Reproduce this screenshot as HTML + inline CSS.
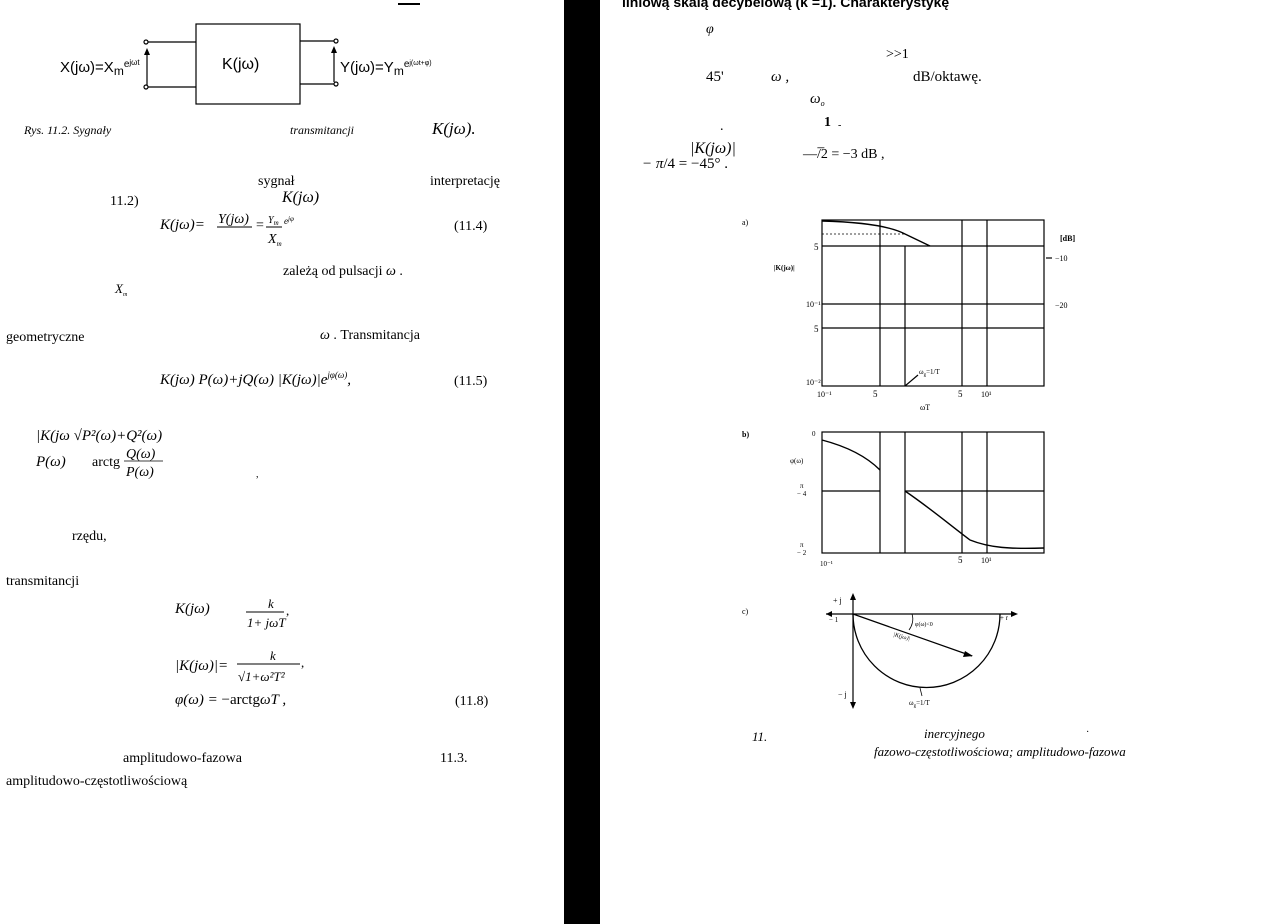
<!DOCTYPE html>
<html><head><meta charset="utf-8"><style>
html,body{margin:0;padding:0;background:#fff;}
svg{display:block}
text{font-family:"Liberation Serif",serif;fill:#000}
.s{font-family:"Liberation Sans",sans-serif}
.i{font-style:italic}
</style></head><body>
<svg width="1268" height="924" viewBox="0 0 1268 924" xmlns="http://www.w3.org/2000/svg">
<rect x="0" y="0" width="1268" height="924" fill="#fff"/>
<rect x="564" y="0" width="36" height="924" fill="#000"/>
<rect x="398" y="3" width="22" height="2" fill="#000"/>

<g stroke="#000" fill="none" stroke-width="1.2">
<rect x="196" y="24" width="104" height="80"/>
<line x1="148" y1="42" x2="196" y2="42"/>
<line x1="148" y1="87" x2="196" y2="87"/>
<line x1="300" y1="41" x2="334" y2="41"/>
<line x1="300" y1="84" x2="334" y2="84"/>
<circle cx="146" cy="42" r="2" fill="#fff"/>
<circle cx="146" cy="87" r="2" fill="#fff"/>
<circle cx="336" cy="41" r="2" fill="#fff"/>
<circle cx="336" cy="84" r="2" fill="#fff"/>
<line x1="147" y1="85" x2="147" y2="54"/>
<line x1="334" y1="82" x2="334" y2="52"/>
</g>
<polygon points="144,55 150,55 147,48" fill="#000"/>
<polygon points="331,53 337,53 334,46" fill="#000"/>
<text class="s" x="60" y="72" font-size="15">X(jω)=X<tspan font-size="12" dy="3">m</tspan><tspan dy="-8" font-size="10">e</tspan><tspan font-size="8" dy="-2">jωt</tspan></text>
<text class="s" x="222" y="69" font-size="16">K(jω)</text>
<text class="s" x="340" y="72" font-size="15">Y(jω)=Y<tspan font-size="12" dy="3">m</tspan><tspan dy="-8" font-size="10">e</tspan><tspan font-size="7" dy="-2">j(ωt+φ)</tspan></text>

<text class="i" x="24" y="134" font-size="12">Rys. 11.2. Sygnały</text>
<text class="i" x="290" y="134" font-size="12">transmitancji</text>
<text class="i" x="432" y="134" font-size="17">K(jω).</text>

<text x="258" y="185" font-size="14">sygnał</text>
<text x="430" y="185" font-size="14">interpretację</text>
<text x="110" y="205" font-size="14">11.2)</text>
<text class="i" x="282" y="202" font-size="16">K(jω)</text>
<text class="i" x="160" y="229" font-size="15">K(jω)=</text>
<text class="i" x="218" y="223" font-size="14">Y(jω)</text>
<line x1="217" y1="227" x2="252" y2="227" stroke="#000"/>
<text x="256" y="229" font-size="14">=</text>
<text class="i" x="268" y="223" font-size="10">Y<tspan font-size="7" dy="2">m</tspan></text>
<line x1="266" y1="227" x2="282" y2="227" stroke="#000"/>
<text class="i" x="284" y="224" font-size="9">e<tspan font-size="7" dy="-3">jφ</tspan></text>
<text class="i" x="268" y="243" font-size="14">X<tspan font-size="7" dy="3">m</tspan></text>
<text x="454" y="230" font-size="14">(11.4)</text>
<text x="283" y="275" font-size="14">zależą od pulsacji <tspan class="i">ω</tspan> .</text>
<text class="i" x="115" y="293" font-size="13">X<tspan font-size="6" dy="3">m</tspan></text>

<text x="6" y="341" font-size="14">geometryczne</text>
<text x="320" y="339" font-size="14"><tspan class="i">ω</tspan> .  Transmitancja</text>
<text class="i" x="160" y="384" font-size="15">K(jω)   P(ω)+jQ(ω)    |K(jω)|e<tspan font-size="9" dy="-6">jφ(ω)</tspan><tspan dy="6">,</tspan></text>
<text x="454" y="385" font-size="14">(11.5)</text>

<text class="i" x="36" y="440" font-size="15">|K(jω      √P²(ω)+Q²(ω)</text>
<text class="i" x="36" y="466" font-size="15">P(ω)</text>
<text x="92" y="466" font-size="14">arctg</text>
<text class="i" x="126" y="458" font-size="14">Q(ω)</text>
<line x1="124" y1="461" x2="163" y2="461" stroke="#000" stroke-width="0.8"/>
<text class="i" x="126" y="476" font-size="14">P(ω)</text>
<text x="256" y="477" font-size="10">,</text>

<text x="72" y="540" font-size="14">rzędu,</text>
<text x="6" y="585" font-size="14">transmitancji</text>
<text class="i" x="175" y="613" font-size="15">K(jω)</text>
<text class="i" x="268" y="608" font-size="13">k</text>
<line x1="246" y1="612" x2="284" y2="612" stroke="#000"/>
<text class="i" x="247" y="627" font-size="13">1+ jωT</text>
<text x="286" y="615" font-size="13">,</text>
<text class="i" x="175" y="670" font-size="15">|K(jω)|=</text>
<text class="i" x="270" y="660" font-size="13">k</text>
<line x1="237" y1="664" x2="300" y2="664" stroke="#000"/>
<text class="i" x="238" y="681" font-size="13">√1+ω²T²</text>
<text x="301" y="667" font-size="13">,</text>
<text class="i" x="175" y="704" font-size="15">φ(ω) = <tspan font-style="normal">−arctg</tspan>ωT ,</text>
<text x="455" y="705" font-size="14">(11.8)</text>

<text x="123" y="762" font-size="14">amplitudowo-fazowa</text>
<text x="440" y="762" font-size="14">11.3.</text>
<text x="6" y="785" font-size="14">amplitudowo-częstotliwościową</text>

<text class="s" x="622" y="7" font-size="14" font-weight="bold">liniową skalą decybelową (k  =1). Charakterystykę</text>
<text class="i" x="706" y="33" font-size="14">φ</text>
<text x="886" y="58" font-size="14">&gt;&gt;1</text>
<text x="706" y="81" font-size="15">45'</text>
<text class="i" x="771" y="81" font-size="15">ω ,</text>
<text x="913" y="81" font-size="15">dB/oktawę.</text>
<text class="i" x="810" y="103" font-size="15">ω<tspan font-size="8" dy="3">o</tspan></text>
<text x="720" y="130" font-size="14">.</text>
<text x="824" y="126" font-size="14" font-weight="bold">1</text>
<text x="838" y="128" font-size="10">-</text>
<text class="i" x="690" y="153" font-size="16">|K(jω)|</text>
<text x="803" y="158" font-size="14">―/̅2 = −3 dB ,</text>
<text x="642" y="168" font-size="15"><tspan class="i">− π</tspan>/4 = −45° .</text>

<text x="742" y="225" font-size="8">a)</text>
<g stroke="#000" fill="none" stroke-width="1.2">
<rect x="822" y="220" width="222" height="166"/>
<line x1="880" y1="220" x2="880" y2="386"/>
<line x1="905" y1="246" x2="905" y2="386"/>
<line x1="962" y1="220" x2="962" y2="386"/>
<line x1="987" y1="220" x2="987" y2="386"/>
<line x1="822" y1="246" x2="1044" y2="246"/>
<line x1="822" y1="304" x2="1044" y2="304"/>
<line x1="822" y1="328" x2="1044" y2="328"/>
<line x1="822" y1="234" x2="905" y2="234" stroke-dasharray="2,2" stroke-width="0.8"/>
<path d="M822,221 C860,222 890,226 905,234 L930,246" stroke-width="1.4"/>
<line x1="1046" y1="258" x2="1052" y2="258"/>
<path d="M905,386 L918,375"/>
</g>
<text x="814" y="250" font-size="9">5</text>
<text x="774" y="270" font-size="7" font-weight="bold">|K(jω)|</text>
<text x="806" y="307" font-size="8">10⁻¹</text>
<text x="814" y="332" font-size="9">5</text>
<text x="806" y="385" font-size="8">10⁻²</text>
<text x="1060" y="241" font-size="8" font-weight="bold">[dB]</text>
<text x="1055" y="261" font-size="8">−10</text>
<text x="1055" y="308" font-size="8">−20</text>
<text x="817" y="397" font-size="8">10⁻¹</text>
<text x="873" y="397" font-size="9">5</text>
<text x="958" y="397" font-size="9">5</text>
<text x="981" y="397" font-size="8">10¹</text>
<text x="920" y="410" font-size="8">ωT</text>
<text x="919" y="374" font-size="7">ω<tspan font-size="5" dy="2">g</tspan><tspan dy="-2">=1/T</tspan></text>

<text x="742" y="437" font-size="8" font-weight="bold">b)</text>
<g stroke="#000" fill="none" stroke-width="1.2">
<rect x="822" y="432" width="222" height="121"/>
<line x1="880" y1="432" x2="880" y2="553"/>
<line x1="905" y1="432" x2="905" y2="553"/>
<line x1="962" y1="432" x2="962" y2="553"/>
<line x1="987" y1="432" x2="987" y2="553"/>
<line x1="822" y1="491" x2="880" y2="491"/>
<line x1="905" y1="491" x2="1044" y2="491"/>
<path d="M822,440 C845,446 865,455 880,470" stroke-width="1.4"/>
<path d="M905,491 C930,508 950,525 970,540 C990,548 1010,549 1044,548" stroke-width="1.4"/>
</g>
<text x="812" y="436" font-size="7">0</text>
<text x="790" y="463" font-size="7">φ(ω)</text>
<text x="800" y="488" font-size="7">π</text><text x="797" y="496" font-size="7">− 4</text>
<text x="800" y="547" font-size="7">π</text><text x="797" y="555" font-size="7">− 2</text>
<text x="820" y="566" font-size="7">10⁻¹</text>
<text x="958" y="563" font-size="9">5</text>
<text x="981" y="563" font-size="8">10¹</text>

<text x="742" y="614" font-size="8">c)</text>
<g stroke="#000" fill="none" stroke-width="1.2">
<line x1="826" y1="614" x2="1015" y2="614"/>
<line x1="853" y1="598" x2="853" y2="705"/>
<path d="M853,614 A73,73 0 0 0 1000,614" stroke-width="1.3"/>
<line x1="853" y1="614" x2="972" y2="656"/>
<path d="M912,614 C914,620 912,626 909,630" stroke-width="0.8"/>
<line x1="920" y1="688" x2="922" y2="696" stroke-width="0.8"/>
</g>
<polygon points="1018,614 1011,611 1011,617" fill="#000"/>
<polygon points="826,614 832,611 832,617" fill="#000"/>
<polygon points="853,593 850,600 856,600" fill="#000"/>
<polygon points="853,709 850,702 856,702" fill="#000"/>
<polygon points="973,656 965,651 963,657" fill="#000"/>
<text x="833" y="603" font-size="8">+ j</text>
<text x="829" y="622" font-size="7">− 1</text>
<text x="1000" y="620" font-size="7">+ r</text>
<text x="838" y="697" font-size="8">− j</text>
<text x="915" y="626" font-size="6">φ(ω)&lt;0</text>
<text x="893" y="636" font-size="6" class="i" transform="rotate(15 893 636)">|K(jω)|</text>
<text x="909" y="705" font-size="7">ω<tspan font-size="5" dy="2">g</tspan><tspan dy="-2">=1/T</tspan></text>

<text class="i" x="752" y="741" font-size="13">11.</text>
<text class="i" x="924" y="738" font-size="13">inercyjnego</text>
<text x="1086" y="735" font-size="10">·</text>
<text class="i" x="874" y="756" font-size="13">fazowo-częstotliwościowa;    amplitudowo-fazowa</text>
</svg>
</body></html>
